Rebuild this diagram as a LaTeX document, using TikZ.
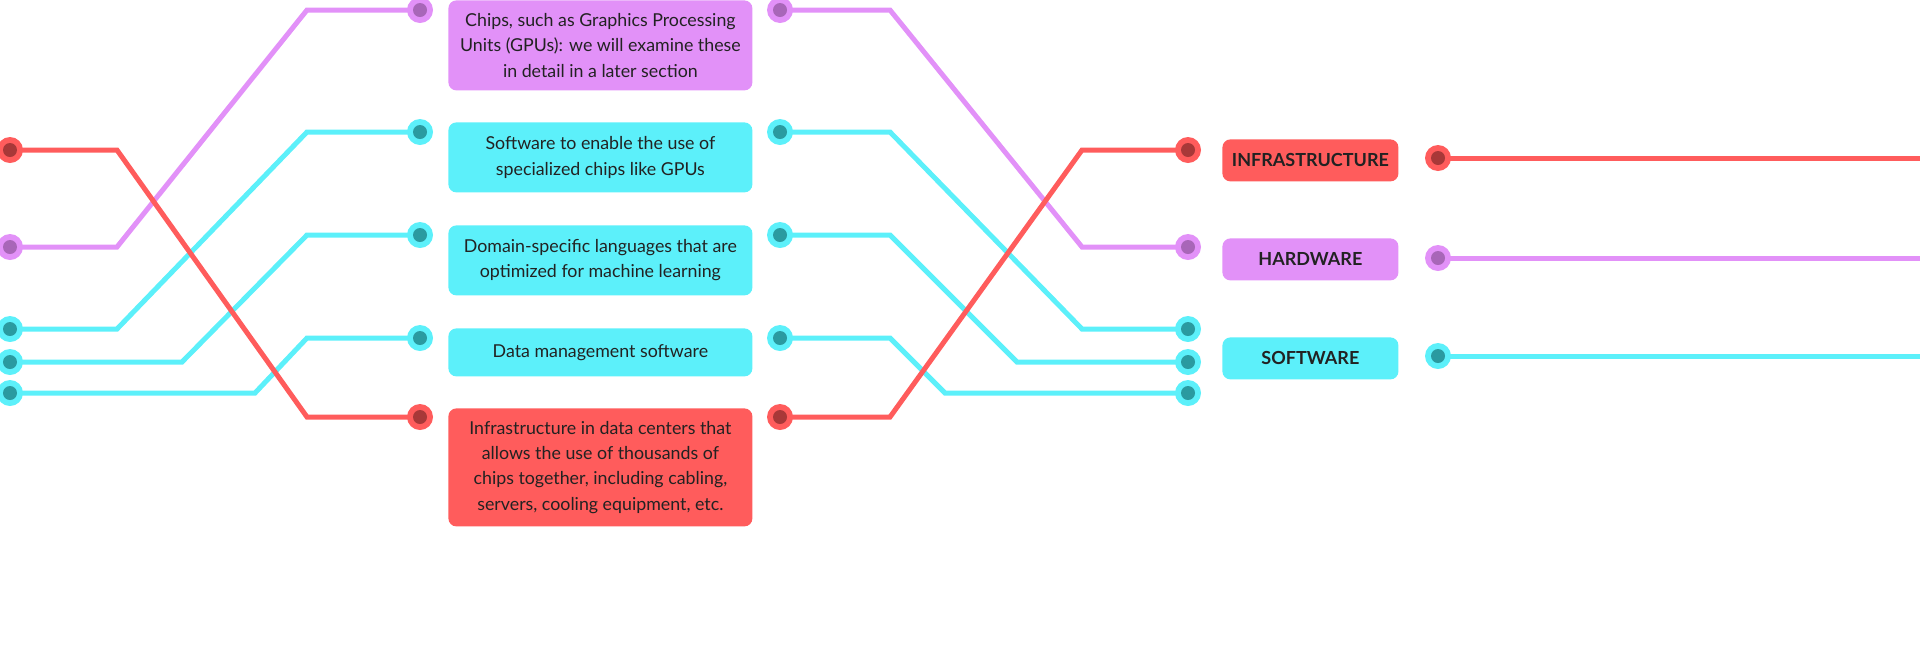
\documentclass[tikz,border=0pt]{standalone}
\usepackage{fontspec}
\setmainfont{Lato}
\definecolor{cr}{HTML}{FF5C5C}\definecolor{cp}{HTML}{E291F8}\definecolor{cc}{HTML}{5CF0FA}
\definecolor{dr}{HTML}{A83838}\definecolor{dp}{HTML}{A866B8}\definecolor{dc}{HTML}{2A9AA0}
\definecolor{tx}{HTML}{222222}
\newcommand{\mydotat}[3]{\fill[#2] (#1) circle (6.5pt);\fill[#3] (#1) circle (3.5pt);}
\begin{document}
\begin{tikzpicture}[x=0.5pt,y=-0.5pt,
 wire/.style={line width=2.5pt,line join=miter},
 box/.style={rounded corners=4pt,minimum width=152pt,inner sep=0pt,align=center,text=tx,font=\fontsize{8.9}{12.6}\selectfont,anchor=north west},
 lab/.style={rounded corners=4pt,minimum width=88pt,minimum height=21pt,inner sep=0pt,text=tx,font=\bfseries\fontsize{9}{11}\selectfont,anchor=north west}]
\foreach \n/\y in {lr/150,lp/247,lc1/329,lc2/362,lc3/393}{\coordinate (\n) at (10,\y);}
\foreach \n/\y in {ap/10,ac1/132,ac2/235,ac3/338,ar/417}{\coordinate (\n) at (420,\y);}
\foreach \n/\y in {bp/10,bc1/132,bc2/235,bc3/338,br/417}{\coordinate (\n) at (780,\y);}
\foreach \n/\y in {rr/150,rp/247,rc1/329,rc2/362,rc3/393}{\coordinate (\n) at (1188,\y);}
\coordinate (er) at (1438,158);\coordinate (ep) at (1438,258);\coordinate (ec) at (1438,356);
\coordinate (fr) at (1920,158);\coordinate (fp) at (1920,258);\coordinate (fc) at (1920,356);
\draw[wire,cc] (lc1) -- (117,329) -- (307,132) -- (ac1);
\draw[wire,cc] (lc2) -- (182,362) -- (307,235) -- (ac2);
\draw[wire,cc] (lc3) -- (255,393) -- (307,338) -- (ac3);
\draw[wire,cp] (lp) -- (117,247) -- (307,10) -- (ap);
\draw[wire,cr] (lr) -- (117,150) -- (307,417) -- (ar);
\draw[wire,cc] (bc1) -- (890,132) -- (1082,329) -- (rc1);
\draw[wire,cc] (bc2) -- (890,235) -- (1017,362) -- (rc2);
\draw[wire,cc] (bc3) -- (890,338) -- (945,393) -- (rc3);
\draw[wire,cp] (bp) -- (890,10) -- (1082,247) -- (rp);
\draw[wire,cr] (br) -- (890,417) -- (1082,150) -- (rr);
\draw[wire,cr] (er) -- (fr);\draw[wire,cp] (ep) -- (fp);\draw[wire,cc] (ec) -- (fc);
\foreach \p/\a/\b in {lr/cr/dr,lp/cp/dp,lc1/cc/dc,lc2/cc/dc,lc3/cc/dc,ap/cp/dp,ac1/cc/dc,ac2/cc/dc,ac3/cc/dc,ar/cr/dr,
 bp/cp/dp,bc1/cc/dc,bc2/cc/dc,bc3/cc/dc,br/cr/dr,rr/cr/dr,rp/cp/dp,rc1/cc/dc,rc2/cc/dc,rc3/cc/dc,er/cr/dr,ep/cp/dp,ec/cc/dc}{\mydotat{\p}{\a}{\b}}
\node[box,fill=cp,minimum height=45pt] (b1) at (448,0) {Chips, such as Graphics Processing\\Units (GPUs): we will examine these\\in detail in a later section};
\node[box,fill=cc,minimum height=35pt] (b2) at (448,122) {Software to enable the use of\\specialized chips like GPUs};
\node[box,fill=cc,minimum height=35pt] (b3) at (448,225) {Domain-specific languages that are\\optimized for machine learning};
\node[box,fill=cc,minimum height=24pt] (b4) at (448,328) {Data management software};
\node[box,fill=cr,minimum height=59pt] (b5) at (448,408) {Infrastructure in data centers that\\allows the use of thousands of\\chips together, including cabling,\\servers, cooling equipment, etc.};
\node[lab,fill=cr] (l1) at (1222,139) {INFRASTRUCTURE};
\node[lab,fill=cp] (l2) at (1222,238) {HARDWARE};
\node[lab,fill=cc] (l3) at (1222,337) {SOFTWARE};
\pgfresetboundingbox
\path[use as bounding box] (0,0) rectangle (1920,644);
\end{tikzpicture}
\end{document}
